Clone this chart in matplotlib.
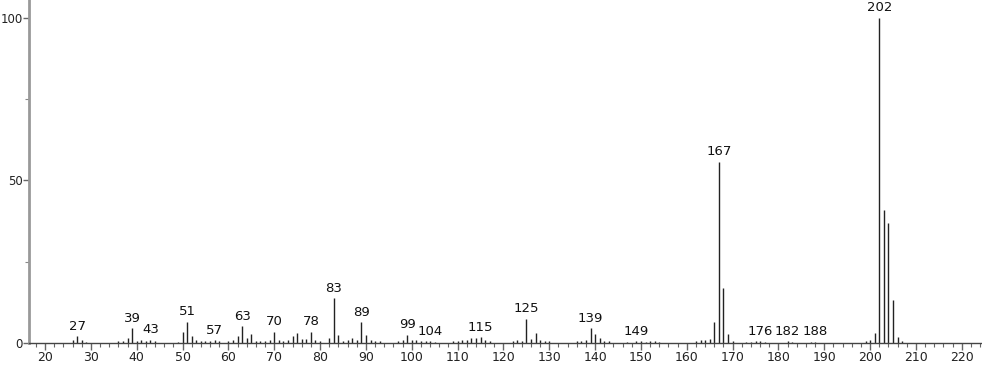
import matplotlib.pyplot as plt
from matplotlib.ticker import MultipleLocator

# m/z values and relative intensities
mz = [26, 27, 28, 29, 36, 37, 38, 39, 40, 41, 42, 43, 44,
      49, 50, 51, 52, 53, 54, 55, 56, 57, 58, 60, 61, 62, 63, 64, 65, 66, 67, 68,
      69, 70, 71, 72, 73, 74, 75, 76, 77, 78, 79, 80, 82, 83, 84, 85, 86, 87, 88,
      89, 90, 91, 92, 93, 97, 98, 99, 100, 101, 102, 103, 104, 105, 109, 110, 111,
      112, 113, 114, 115, 116, 117, 122, 123, 124, 125, 126, 127, 128, 129, 130,
      136, 137, 138, 139, 140, 141, 142, 143, 147, 149, 150, 151, 152, 153, 154,
      162, 163, 164, 165, 166, 167, 168, 169, 170, 173, 174, 175, 176, 177,
      182, 183, 187, 188, 199, 200, 201, 202, 203, 204, 205, 206, 207]
intensity = [1.0, 2.0, 0.8, 0.3, 0.6, 0.7, 1.5, 4.5, 0.5, 1.0, 0.5, 1.0, 0.5,
             0.4, 3.5, 6.5, 2.0, 1.0, 0.5, 0.6, 0.5, 0.8, 0.5, 0.5, 1.0, 2.0, 5.2, 1.5, 2.8, 0.6, 0.5, 0.6,
             1.0, 3.5, 1.0, 0.5, 1.0, 2.0, 3.0, 1.2, 1.3, 3.5, 1.0, 0.5, 1.5, 13.7, 2.5, 0.6, 1.0, 1.5, 1.0,
             6.4, 2.5, 1.0, 0.5, 0.5, 0.5, 1.0, 2.5, 1.0, 0.8, 0.5, 0.5, 0.6, 0.4, 0.5, 0.5, 1.0,
             1.0, 1.5, 1.5, 1.8, 1.0, 0.5, 0.5, 1.0, 0.6, 7.4, 1.1, 3.0, 1.0, 0.6, 0.5,
             0.5, 0.5, 1.0, 4.5, 2.7, 1.5, 0.5, 0.5, 0.3, 0.5, 0.5, 0.3, 0.5, 0.5, 0.3,
             0.5, 0.8, 1.0, 1.1, 6.4, 55.7, 16.8, 2.8, 0.5, 0.4, 0.4, 0.5, 0.5, 0.4,
             0.5, 0.3, 0.3, 0.4, 0.5, 0.8, 3.0, 100.0, 41.0, 37.0, 13.2, 1.8, 0.5]

# peaks that carry an m/z label
labelled = [27, 39, 43, 51, 57, 63, 70, 78, 83, 89, 99, 104, 115, 125, 139,
            149, 167, 176, 182, 188, 202]

fig = plt.figure(figsize=(9.82, 3.65), dpi=100)
ax = fig.add_axes([29 / 982, 22 / 365, 953 / 982, 343 / 365])

ax.vlines(mz, 0, intensity, color='#222222', linewidth=1.0)

heights = dict(zip(mz, intensity))
for m in labelled:
    ax.annotate(str(m), (m, heights[m]), xytext=(0, 2.5), textcoords='offset points',
                ha='center', va='bottom', fontsize=9.5, color='#111111')

ax.set_xlim(16.5, 224.4)
ax.set_ylim(0, 105.5)

ax.set_xticks(range(20, 221, 10))
ax.xaxis.set_minor_locator(MultipleLocator(2))
ax.yaxis.set_major_locator(MultipleLocator(50))
ax.yaxis.set_minor_locator(MultipleLocator(25))

ax.spines['top'].set_visible(False)
ax.spines['right'].set_visible(False)
ax.spines['left'].set_color('#999999')
ax.spines['left'].set_linewidth(2)
ax.spines['bottom'].set_color('#444444')
ax.spines['bottom'].set_linewidth(1)

ax.tick_params(axis='x', which='major', length=5, width=1, color='#666666',
               labelsize=9, pad=1, labelcolor='#222222')
ax.tick_params(axis='x', which='minor', length=3, width=0.8, color='#666666')
ax.tick_params(axis='y', which='major', length=4, width=1, color='#666666',
               labelsize=8.5, pad=0.5, labelcolor='#222222')
ax.tick_params(axis='y', which='minor', length=3, width=0.8, color='#888888')

fig.savefig('out.png', dpi=100)
